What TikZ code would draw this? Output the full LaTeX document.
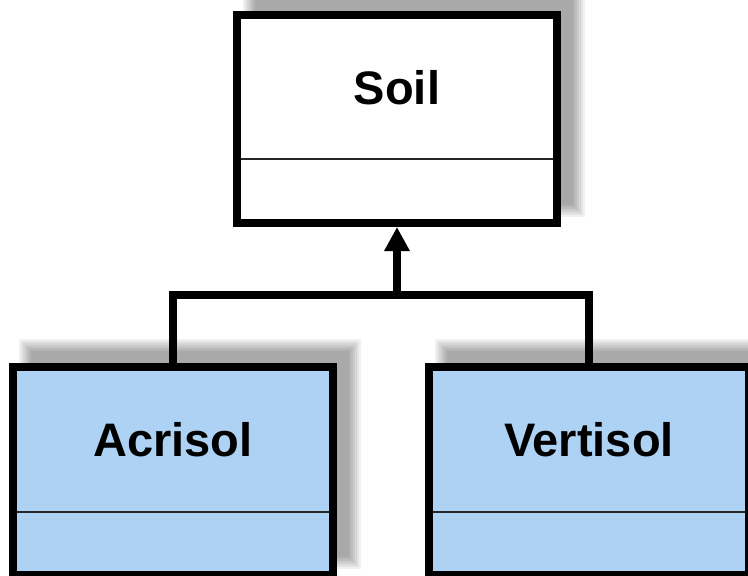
\documentclass[tikz,border=0pt]{standalone}
\usepackage{fontspec}
\setmainfont{Liberation Sans}
\usetikzlibrary{arrows.meta,calc,backgrounds}
\definecolor{classblue}{HTML}{AED2F3}
\tikzset{
  classbox/.style={draw=black, line width=8pt, rectangle,
    minimum width=320pt, minimum height=208pt, inner sep=0pt},
  classname/.style={font=\bfseries\fontsize{47}{50}\selectfont, inner sep=0pt},
  divider/.style={line width=2pt, draw=black!85},
  link/.style={line width=7.5pt, draw=black, line join=miter},
  shadowlayer/.style={fill=black, fill opacity=0.056},
}
% soft drop shadow behind a node: stacked translucent rectangles
\newcommand\castshadow[1]{%
  \foreach \e in {7,5,3,1,-1,-3,-5}{%
    \fill[shadowlayer] ($(#1.north west)+(17-\e,-17-\e)$)
      rectangle ($(#1.south east)+(17+\e,-17+\e)$);}}
\begin{document}
\begin{tikzpicture}[x=1pt,y=-1pt]
  \useasboundingbox (0,0) rectangle (748,576);
  \clip (0,0) rectangle (748,576);

  % classes
  \node[classbox, fill=white] (soil) at (397,119) {};
  \node[classbox, fill=classblue] (acrisol) at (173,471) {};
  \node[classbox, fill=classblue] (vertisol) at (589,471) {};

  % shadows and page behind the classes
  \begin{scope}[on background layer]
    \fill[white] (0,0) rectangle (748,576);
    \castshadow{soil}
    \castshadow{acrisol}
    \castshadow{vertisol}
  \end{scope}

  % compartment separators
  \draw[divider] ($(soil.center)+(-156,40)$) -- ($(soil.center)+(156,40)$);
  \draw[divider] ($(acrisol.center)+(-156,40.5)$) -- ($(acrisol.center)+(156,40.5)$);
  \draw[divider] ($(vertisol.center)+(-156,40.5)$) -- ($(vertisol.center)+(156,40.5)$);

  % class names
  \node[classname] (soilname) at ($(soil.center)+(0,-31)$) {Soil};
  \node[classname] (acrisolname) at ($(acrisol.center)+(0,-31.5)$) {Acrisol};
  \node[classname] (vertisolname) at ($(vertisol.center)+(0,-31.5)$) {Vertisol};

  % generalisation connector
  \coordinate (join) at (397,295);
  \draw[link] (acrisol.north) |- (join) -| (vertisol.north);
  \draw[link, -{Triangle[length=24pt,width=24pt]}] (join) -- (soil.south);
\end{tikzpicture}
\end{document}
